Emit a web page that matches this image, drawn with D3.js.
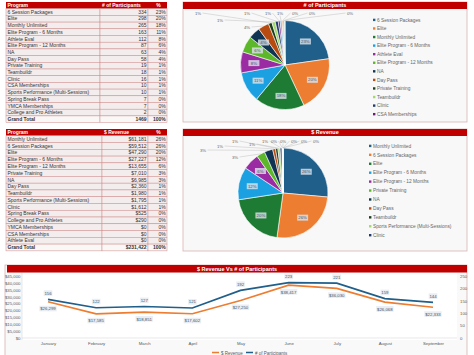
<!DOCTYPE html>
<html><head><meta charset="utf-8">
<script src="https://cdn.jsdelivr.net/npm/d3@7"></script>
<style>body{margin:0;background:#fff}svg{display:block;font-family:"Liberation Sans",Arial,sans-serif}</style>
</head><body><svg id="c" width="474" height="355"></svg>
<script>
// ---------- DATA ----------
const partPrograms = ["6 Session Packages","Elite","Monthly Unlimited","Elite Program - 6 Months","Athlete Eval","Elite Program - 12 Months","NA","Day Pass","Private Training","Teambuildr","Clinic","CSA Memberships","Sports Performance (Multi-Sessions)","Spring Break Pass","YMCA Memberships","College and Pro Athletes"];
const partCounts = [334,298,265,163,112,87,63,58,19,18,16,10,10,7,7,2];
const revPrograms = ["Monthly Unlimited","6 Session Packages","Elite","Elite Program - 6 Months","Elite Program - 12 Months","Private Training","NA","Day Pass","Teambuildr","Sports Performance (Multi-Sessions)","Clinic","Spring Break Pass","College and Pro Athletes","YMCA Memberships","CSA Memberships","Athlete Eval"];
const revValues = [61181,59512,47290,27227,13655,7010,6985,2360,1980,1795,1612,525,290,0,0,0];
const months = ["January","February","March","April","May","June","July","August","September"];
const monthlyParticipants = [156,122,127,121,192,223,221,159,144];
const monthlyRevenue = [26299,17585,18851,17602,27250,38417,36030,26068,22333];
const revTicks = [0,5000,10000,15000,20000,25000,30000,35000,40000,45000];
const partTicks = [0,50,100,150,200,250];
const pieColors = ["#1f5f8a","#ed7d31","#1e7b34","#1ba1e2","#9b2ba3","#5cb82a","#0f3552","#b84b10","#1a3d1a","#a3d86a","#213a70","#6a1b7a","#69b7e0","#f4b183","#2f8f4f","#b5dcf0"];

// ---------- LAYOUT ----------
const svg = d3.select("#c");
const RED = "#c00000";
const pct = d3.format(".0%");
const money = d3.format("$,");

function table(top, rowH, cols, header, names, vals, fmt) {
  const total = d3.sum(vals);
  const rows = names.map((n,i)=>[n, fmt(vals[i]), pct(vals[i]/total)]);
  rows.push(["Grand Total", fmt(total), "100%"]);
  const g = svg.append("g");
  g.append("rect").attr("x",cols[0]).attr("y",top).attr("width",cols[3]-cols[0]).attr("height",rowH).attr("fill",RED);
  const hy = top + rowH*0.74;
  g.append("text").attr("x",cols[0]+1.5).attr("y",hy).text("Program");
  g.append("text").attr("x",cols[1]+2).attr("y",hy).text(header);
  g.append("text").attr("x",(cols[2]+cols[3])/2+1).attr("y",hy).attr("text-anchor","middle").text("%");
  g.selectAll("text").attr("fill","#fff").attr("font-weight","bold").attr("font-size",5);
  rows.forEach((r,i)=>{
    const y = top + rowH*(i+1);
    const last = i===rows.length-1;
    for (let c=0;c<3;c++) {
      g.append("rect").attr("x",cols[c]).attr("y",y).attr("width",cols[c+1]-cols[c]).attr("height",rowH)
        .attr("fill", last ? "#faf7f7" : "#f3eded").attr("stroke","#cf8a8a").attr("stroke-width",0.5);
    }
    const ty = y + rowH*0.76;
    const t = [
      g.append("text").attr("x",cols[0]+1.5).attr("y",ty).text(r[0]),
      g.append("text").attr("x",cols[2]-1.5).attr("y",ty).attr("text-anchor","end").text(r[1]),
      g.append("text").attr("x",cols[3]-1.2).attr("y",ty).attr("text-anchor","end").text(r[2])
    ];
    t.forEach(s=>s.attr("font-size",5).attr("fill","#333").attr("font-weight", last?"bold":"normal"));
  });
}
table(2, 6.7, [6,100,148,167], "# of Participants", partPrograms, partCounts, d3.format("d"));
table(129, 6.77, [6,102,148,167], "$ Revenue", revPrograms, revValues, money);

function panel(x0,y0,x1,y1,title,bg){
  svg.append("rect").attr("x",x0).attr("y",y0).attr("width",x1-x0).attr("height",y1-y0)
    .attr("fill",bg).attr("stroke","#d9b3b3").attr("stroke-width",0.8);
  svg.append("rect").attr("x",x0).attr("y",y0).attr("width",x1-x0).attr("height",7).attr("fill",RED);
  svg.append("text").attr("x",(x0+x1)/2).attr("y",y0+5.3).attr("text-anchor","middle")
    .attr("fill","#fff").attr("font-weight","bold").attr("font-size",5.5).text(title);
}

function pieChart(cx, cy, R, names, vals, insideCount, outOffsets, lx, ly0, lstep, lcount){
  const total = d3.sum(vals);
  const arcs = d3.pie().sort(null).value(d=>d)(vals);
  const arc = d3.arc().innerRadius(0).outerRadius(R);
  const g = svg.append("g").attr("transform",`translate(${cx},${cy})`);
  g.selectAll("path.s").data(arcs).join("path").attr("class","s").attr("d",arc)
    .attr("fill",(d,i)=>pieColors[i]).attr("stroke","#fff").attr("stroke-width",0.6);
  const inArc = d3.arc().innerRadius(R*0.7).outerRadius(R*0.7);
  arcs.slice(0,insideCount).forEach((d,i)=>{
    const [x,y] = inArc.centroid(d);
    g.append("rect").attr("x",x-5.5).attr("y",y-3).attr("width",11).attr("height",6)
      .attr("fill","#dfe5ec").attr("opacity",0.8);
    g.append("text").attr("x",x).attr("y",y+1.6).attr("text-anchor","middle")
      .attr("font-size",4.3).attr("fill","#44546a").text(pct(vals[i]/total));
  });
  arcs.slice(insideCount).forEach((d,j)=>{
    const i = insideCount + j;
    const [ox,oy] = outOffsets[j];
    const a = (d.startAngle+d.endAngle)/2;
    const ax = Math.sin(a)*R, ay = -Math.cos(a)*R;
    let ex, ey;
    if (Math.abs(ax-ox) < 5) { ex = ox; ey = oy+2.5; }
    else { ex = ox + (ax>ox?4.5:-4.5); ey = oy; }
    g.append("line").attr("x1",ax).attr("y1",ay).attr("x2",ex).attr("y2",ey)
      .attr("stroke","#b0b0b0").attr("stroke-width",0.4);
    g.append("text").attr("x",ox).attr("y",oy+1.5).attr("text-anchor","middle")
      .attr("font-size",4.3).attr("fill","#666").text(pct(vals[i]/total));
  });
  const lg = svg.append("g");
  names.slice(0,lcount).forEach((n,i)=>{
    const y = ly0 + i*lstep;
    lg.append("rect").attr("x",lx).attr("y",y-1.3).attr("width",2.4).attr("height",2.4).attr("fill",pieColors[i]);
    lg.append("text").attr("x",lx+4).attr("y",y+1.6).attr("font-size",4.8).attr("fill","#666").text(n);
  });
}

panel(183,2,467,122,"# of Participants","#f8f8f8");
pieChart(285,65,44.5,partPrograms,partCounts,7,
  [[-38,-38],[-87,-52],[-65,-45],[-38,-52],[-17,-52],[-5,-52],[10,-52],[27,-52],[65,-52]],
  373,20,8.57,12);

panel(183,129,467,251,"$ Revenue","#f8f8f8");
pieChart(283,193,45,revPrograms,revValues,5,
  [[-48,-36],[-80,-43],[-63,-47],[-48,-52],[-31,-49],[-18,-52],[-9,-52],[0,-52],[11,-52],[21,-52],[33,-52]],
  369,146,8.93,11);

// ---------- LINE CHART ----------
svg.append("rect").attr("x",5).attr("y",265).attr("width",462).attr("height",95).attr("fill","#f9f9f9").attr("stroke","#d9b3b3").attr("stroke-width",0.8);
svg.append("rect").attr("x",22).attr("y",273).attr("width",435).attr("height",67).attr("fill","#fff");
svg.append("rect").attr("x",7).attr("y",265).attr("width",460).attr("height",7.5).attr("fill",RED);
svg.append("text").attr("x",237).attr("y",270.6).attr("text-anchor","middle").attr("fill","#fff")
  .attr("font-weight","bold").attr("font-size",5.5).text("$ Revenue Vs # of Participants");

const x = d3.scalePoint().domain(months).range([48,433]);
const yL = d3.scaleLinear().domain([0,45000]).range([338,276]);
const yR = d3.scaleLinear().domain([0,250]).range([338,276]);

svg.append("line").attr("x1",22).attr("x2",22).attr("y1",273).attr("y2",340).attr("stroke","#d9d9d9").attr("stroke-width",0.6);
svg.append("line").attr("x1",22).attr("x2",457).attr("y1",338).attr("y2",338).attr("stroke","#d9d9d9").attr("stroke-width",0.6);

function styleAxis(sel){
  sel.select(".domain").remove();
  sel.selectAll("text").attr("font-size",4.3).attr("fill","#595959").attr("font-family","Liberation Sans, Arial, sans-serif");
}
svg.append("g").attr("transform","translate(22,0)")
  .call(d3.axisLeft(yL).tickValues(revTicks).tickFormat(money).tickSize(0).tickPadding(1.5)).call(styleAxis);
svg.append("g").attr("transform","translate(459,0)")
  .call(d3.axisRight(yR).tickValues(partTicks).tickSize(0).tickPadding(1)).call(styleAxis);
svg.append("g").attr("transform","translate(0,341)")
  .call(d3.axisBottom(x).tickSize(0).tickPadding(1)).call(styleAxis);

const revLine = d3.line().x((d,i)=>x(months[i])).y(d=>yL(d));
const partLine = d3.line().x((d,i)=>x(months[i])).y(d=>yR(d));
svg.append("path").attr("d",revLine(monthlyRevenue)).attr("fill","none").attr("stroke","#ed7d31").attr("stroke-width",1.7);
svg.append("path").attr("d",partLine(monthlyParticipants)).attr("fill","none").attr("stroke","#1f5f8a").attr("stroke-width",1.7);

function dataLabel(px,py,txt){
  const w = txt.length*2.2+2;
  svg.append("rect").attr("x",px-w/2).attr("y",py-3).attr("width",w).attr("height",5.6).attr("fill","#e6ebf1").attr("opacity",0.85);
  svg.append("text").attr("x",px).attr("y",py+1.5).attr("text-anchor","middle").attr("font-size",4.3).attr("fill","#44546a").text(txt);
}
monthlyParticipants.forEach((v,i)=>dataLabel(x(months[i]), yR(v)-6, String(v)));
monthlyRevenue.forEach((v,i)=>dataLabel(x(months[i]), yL(v)+7, money(v)));

// legend (partly cut off at bottom)
const leg = [["$ Revenue","#ed7d31"],["# of Participants","#1f5f8a"]];
leg.forEach((l,i)=>{
  const lx0 = 212 + i*34;
  svg.append("line").attr("x1",lx0).attr("x2",lx0+7).attr("y1",352.5).attr("y2",352.5).attr("stroke",l[1]).attr("stroke-width",1.5);
  svg.append("text").attr("x",lx0+9).attr("y",354.5).attr("font-size",4.5).attr("fill","#595959").text(l[0]);
});
</script></body></html>
